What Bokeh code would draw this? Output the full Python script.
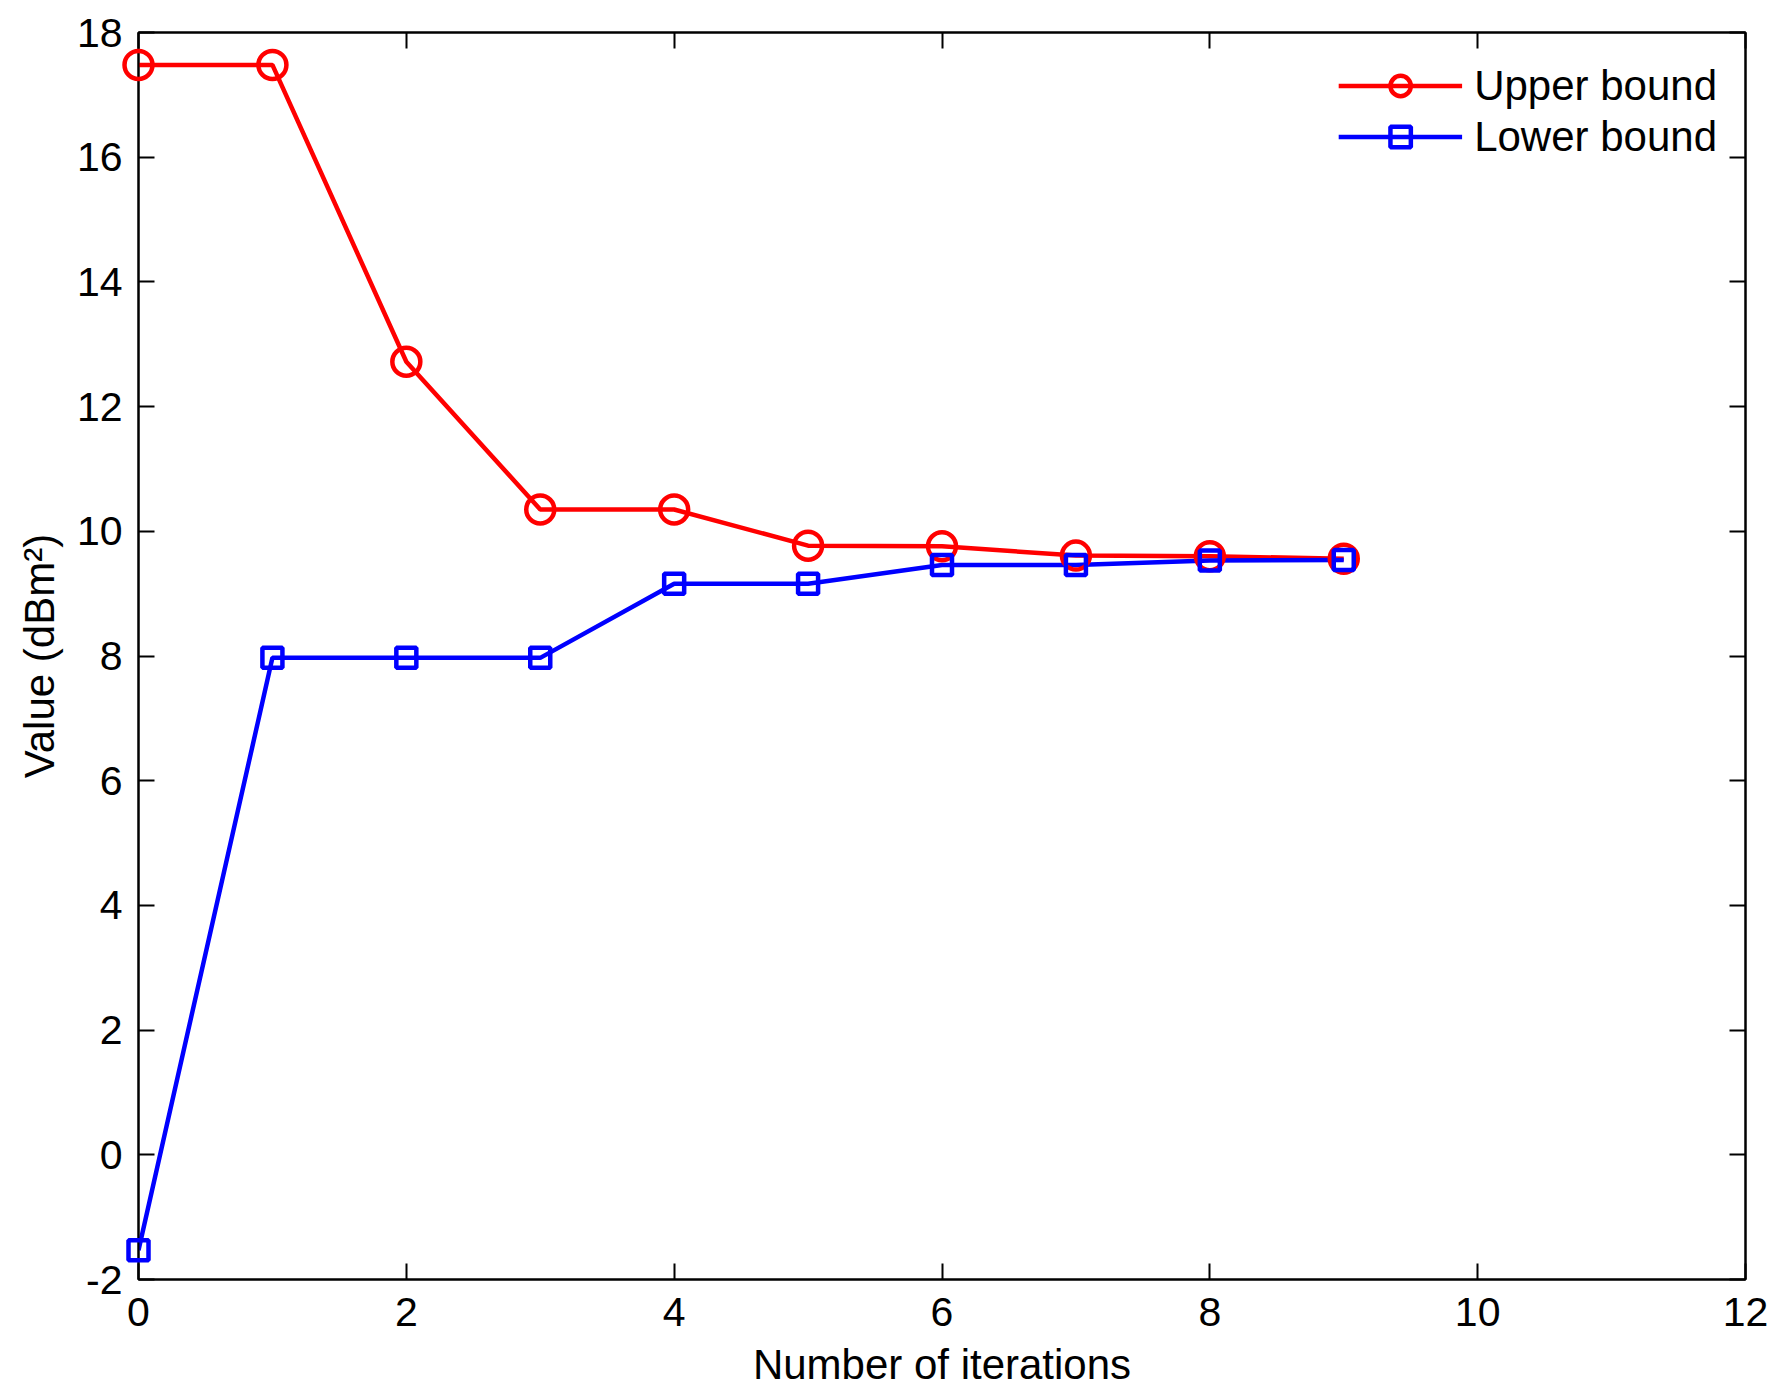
from bokeh.plotting import figure
from bokeh.models import Range1d, LinearAxis, FixedTicker, Legend, LegendItem, CustomLabelingPolicy
from bokeh.embed import file_html
from bokeh.resources import INLINE

# Data
iterations = [0, 1, 2, 3, 4, 5, 6, 7, 8, 9]
upper_bound = [17.48, 17.48, 12.72, 10.35, 10.35, 9.77, 9.76, 9.61, 9.60, 9.56]
lower_bound = [-1.53, 7.97, 7.97, 7.97, 9.16, 9.16, 9.46, 9.46, 9.53, 9.54]
x_ticks = [0, 2, 4, 6, 8, 10, 12]
y_ticks = [-2, 0, 2, 4, 6, 8, 10, 12, 14, 16, 18]

FONT = "Liberation Sans"
FS_TICK = "41px"
FS_LABEL = "42px"

p = figure(width=1763, height=1378, output_backend="svg", toolbar_location=None,
           x_range=Range1d(0, 12), y_range=Range1d(-2, 18),
           min_border_left=138, min_border_right=18, min_border_top=32, min_border_bottom=99)
p.frame_width = 1607
p.frame_height = 1247
p.xgrid.visible = False
p.ygrid.visible = False
p.outline_line_color = "black"
p.outline_line_width = 2
p.background_fill_color = "white"
p.border_fill_color = "white"

hide_labels = CustomLabelingPolicy(code="""
    const all = [];
    for (const i of indices) all.push(i);
    for (const i of all) indices.unset(i);
    return indices;
""")

def style_axis(ax, ticks, labels=True):
    ax.ticker = FixedTicker(ticks=ticks)
    ax.major_tick_in = 16
    ax.major_tick_out = 0
    ax.minor_tick_in = 0
    ax.minor_tick_out = 0
    ax.major_tick_line_width = 2
    ax.axis_line_width = 2
    ax.axis_line_color = "black"
    ax.major_tick_line_color = "black"
    ax.major_label_text_font = FONT
    ax.major_label_text_font_size = FS_TICK
    ax.major_label_text_color = "black"
    ax.axis_label_text_font = FONT
    ax.axis_label_text_font_size = FS_LABEL
    ax.axis_label_text_font_style = "normal"
    ax.axis_label_text_color = "black"
    ax.major_label_overrides = {t: str(t) for t in ticks}
    if not labels:
        ax.major_label_policy = hide_labels
        ax.major_label_standoff = 0

style_axis(p.xaxis[0], x_ticks)
style_axis(p.yaxis[0], y_ticks)
p.xaxis[0].axis_label = "Number of iterations"
p.yaxis[0].axis_label = "Value (dBm²)"
p.xaxis[0].major_label_standoff = 18
p.yaxis[0].major_label_standoff = 16
p.xaxis[0].axis_label_standoff = 12
p.yaxis[0].axis_label_standoff = 11

top_ax = LinearAxis()
style_axis(top_ax, x_ticks, labels=False)
p.add_layout(top_ax, "above")
right_ax = LinearAxis()
style_axis(right_ax, y_ticks, labels=False)
p.add_layout(right_ax, "right")

red = "#FF0000"
blue = "#0000FF"
l1 = p.line(iterations, upper_bound, line_color=red, line_width=4.5)
m1 = p.scatter(iterations, upper_bound, marker="circle", size=28, line_color=red,
               line_width=4.5, fill_color=None, level="overlay")
l2 = p.line(iterations, lower_bound, line_color=blue, line_width=4.5)
m2 = p.scatter(iterations, lower_bound, marker="square", size=20, line_color=blue,
               line_width=4.5, fill_color=None, level="overlay")

legend = Legend(items=[LegendItem(label="Upper bound", renderers=[l1, m1]),
                       LegendItem(label="Lower bound", renderers=[l2, m2])],
                location="top_right")
legend.border_line_color = None
legend.background_fill_alpha = 0
legend.label_text_font = FONT
legend.label_text_font_size = FS_LABEL
legend.label_text_color = "black"
legend.glyph_width = 124
legend.glyph_height = 51
legend.label_height = 51
legend.label_standoff = 12
legend.spacing = 0
legend.padding = 0
legend.margin = 28
p.add_layout(legend)

open("out.html", "w").write(file_html(p, INLINE))
